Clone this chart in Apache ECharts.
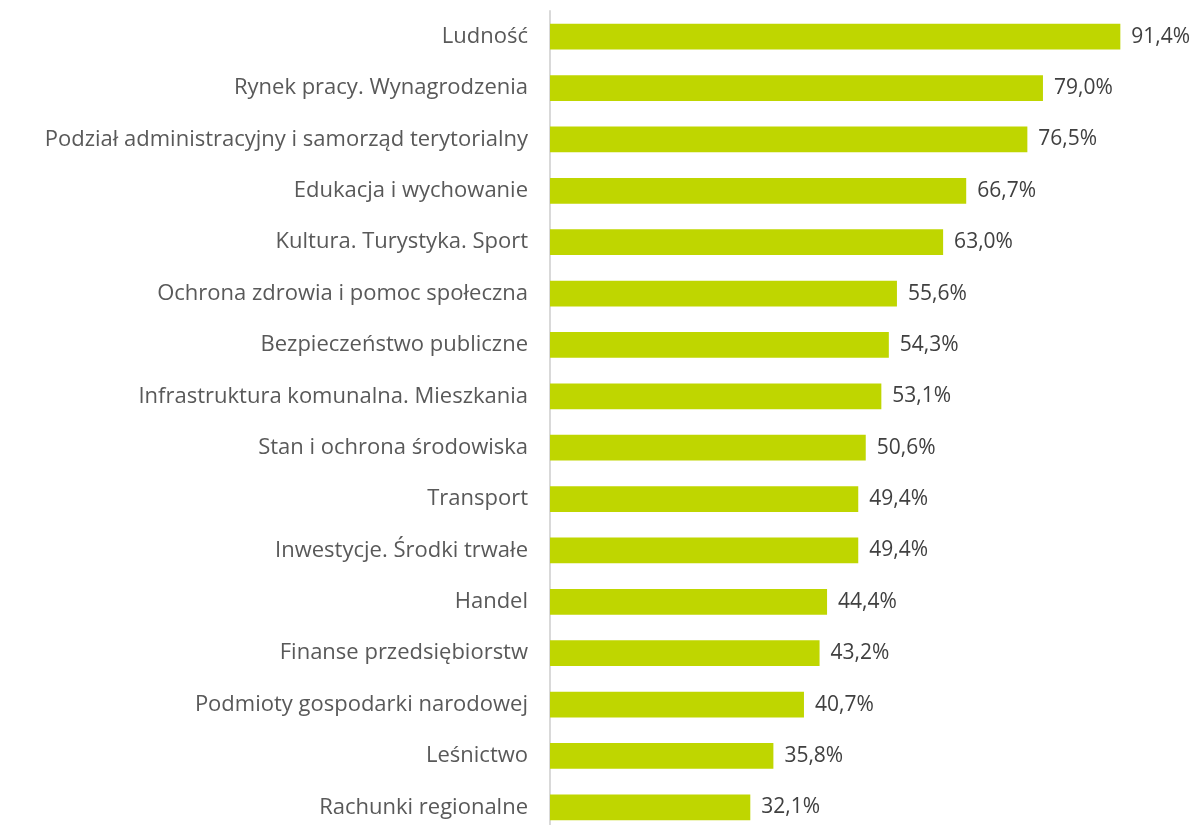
<!DOCTYPE html>
<html lang="pl">
<head>
    <meta charset="UTF-8">
    <script src="https://cdn.jsdelivr.net/npm/echarts@6/dist/echarts.min.js"></script>
    <title>Chart</title>
    <style>
        html, body { margin: 0; padding: 0; background: #fff; }
        #main { width: 1197px; height: 825px; }
    </style>
</head>
<body>
<div id="main"></div>
<script>
    var categories = [
        'Ludność',
        'Rynek pracy. Wynagrodzenia',
        'Podział administracyjny i samorząd terytorialny',
        'Edukacja i wychowanie',
        'Kultura. Turystyka. Sport',
        'Ochrona zdrowia i pomoc społeczna',
        'Bezpieczeństwo publiczne',
        'Infrastruktura komunalna. Mieszkania',
        'Stan i ochrona środowiska',
        'Transport',
        'Inwestycje. Środki trwałe',
        'Handel',
        'Finanse przedsiębiorstw',
        'Podmioty gospodarki narodowej',
        'Leśnictwo',
        'Rachunki regionalne'
    ]
    var values = [91.4, 79.0, 76.5, 66.7, 63.0, 55.6, 54.3, 53.1, 50.6, 49.4, 49.4, 44.4, 43.2, 40.7, 35.8, 32.1]

    var myChart = echarts.init(document.getElementById('main'))

    var option = {
        animation: false,
        grid: {
            left: 550,
            right: 23,
            top: 11,
            height: 822,
            outerBoundsMode: 'none'
        },
        xAxis: {
            type: 'value',
            min: 0,
            max: 100,
            show: false
        },
        yAxis: {
            type: 'category',
            data: categories,
            inverse: true,
            axisTick: { show: false },
            axisLine: { lineStyle: { color: '#d9d9d9', width: 2 } },
            axisLabel: {
                margin: 22,
                color: '#595959',
                fontSize: 22,
                fontFamily: 'Open Sans'
            }
        },
        series: [{
            type: 'bar',
            data: values,
            barWidth: '50%',
            itemStyle: { color: '#bfd600' },
            label: {
                show: true,
                position: 'right',
                distance: 11,
                color: '#404040',
                fontSize: 21,
                fontFamily: 'Open Sans',
                formatter: function (p) {
                    return p.value.toFixed(1).replace('.', ',') + '%'
                }
            }
        }]
    }

    myChart.setOption(option)
</script>
</body>
</html>
